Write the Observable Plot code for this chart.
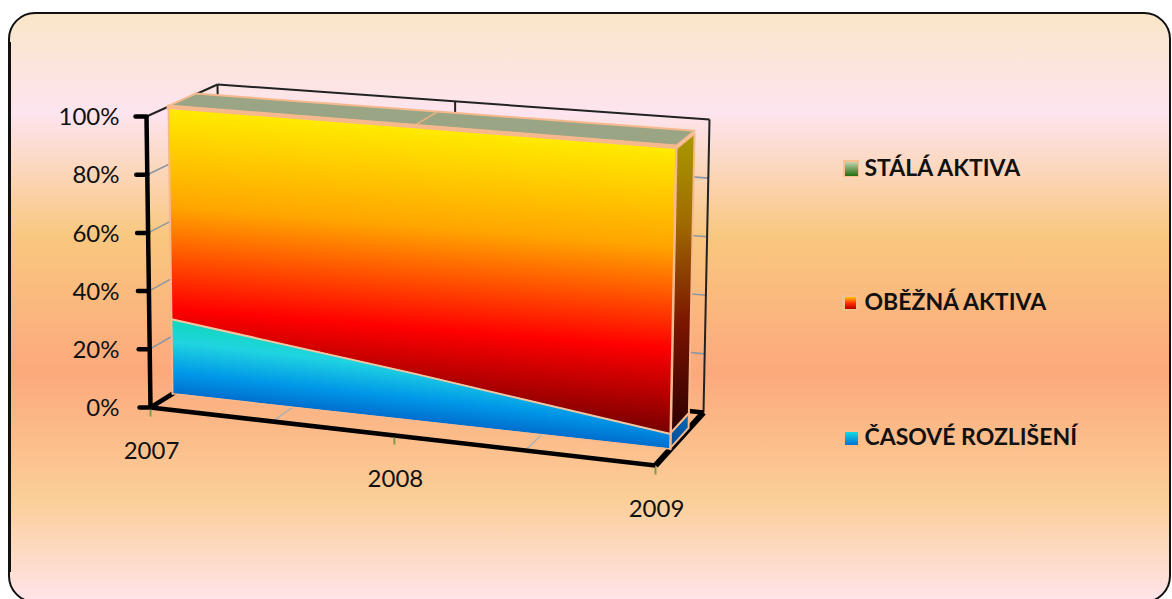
<!DOCTYPE html>
<html lang="cs">
<head>
<meta charset="utf-8">
<style>
  html, body { margin: 0; padding: 0; background: #fff; overflow: hidden; }
  svg { display: block; }
</style>
<script src="https://cdn.jsdelivr.net/npm/d3@7"></script>
<script src="https://cdn.jsdelivr.net/npm/@observablehq/plot@0.6"></script>
</head>
<body>
<div id="chart"></div>
<script>
// Balance-sheet structure, share of total assets (%)
const years = [2007, 2008, 2009];
const casoveRozliseni = [26, 16, 5];
const obeznaAktiva = [73, 83, 94];
const stalaAktiva = [1, 1, 1];
const percentTicks = [0, 20, 40, 60, 80, 100];
const legendNames = ["STÁLÁ AKTIVA", "OBĚŽNÁ AKTIVA", "ČASOVÉ ROZLIŠENÍ"];

// Corners of the 3D box on screen: [year end][value end][depth end]
const box = [
  [[[150, 407], [221, 363]], [[146, 116], [217, 84]]],
  [[[655, 465], [703, 412]], [[661, 158], [709, 119]]]
];
const bodyFront = 0.31, bodyBack = 0.7; // depth of the stacked body inside the box

// Year and value are normalised by scales, then placed in the box.
const yearPos = d3.scaleLinear().domain([2007, 2008, 2009]).range([0, 0.483, 1]);
const valuePos = Plot.scale({y: {domain: [0, 100], range: [0, 1]}});
const mix = (a, b, t) => [a[0] + (b[0] - a[0]) * t, a[1] + (b[1] - a[1]) * t];
function project(year, value, depth) {
  const u = yearPos(year), v = valuePos.apply(value);
  const side = i => mix(
    mix(box[i][0][0], box[i][0][1], depth),
    mix(box[i][1][0], box[i][1][1], depth), v);
  return mix(side(0), side(1), u);
}
const link = (a, b) => {
  const [x1, y1] = project(...a), [x2, y2] = project(...b);
  return {x1, y1, x2, y2};
};
const segment = {x1: "x1", y1: "y1", x2: "x2", y2: "y2"};

// Stacked levels per year
const rows = years.map((year, i) => {
  const low = casoveRozliseni[i], mid = low + obeznaAktiva[i], top = mid + stalaAktiva[i];
  return {year, low, mid, top};
});
const last = rows[rows.length - 1];
const depths = [bodyFront, bodyBack];
const band = (lo, hi, opts) => Plot.area(rows, {
  x1: d => project(d.year, d[lo] ?? 0, bodyFront)[0],
  y1: d => project(d.year, d[lo] ?? 0, bodyFront)[1],
  x2: d => project(d.year, d[hi], bodyFront)[0],
  y2: d => project(d.year, d[hi], bodyFront)[1],
  ...opts
});
const sideBand = (lo, hi, opts) => Plot.area(depths, {
  x1: w => project(last.year, last[lo] ?? 0, w)[0],
  y1: w => project(last.year, last[lo] ?? 0, w)[1],
  x2: w => project(last.year, last[hi], w)[0],
  y2: w => project(last.year, last[hi], w)[1],
  ...opts
});

const inner = percentTicks.filter(p => p > 0 && p < 100);
const edge = {stroke: "#f6b98d", strokeWidth: 2};

const plot = Plot.plot({
  width: 1172,
  height: 599,
  margin: 0,
  x: {type: "identity", axis: null},
  y: {type: "identity", axis: null},
  marks: [
    // panel
    Plot.rect([0], {x1: 9, x2: 1170, y1: 13, y2: 602, rx: 26, fill: "url(#panel)", stroke: "#111", strokeWidth: 2}),
    Plot.ruleX([9], {y1: 42, y2: 572, stroke: "#111", strokeWidth: 3}),

    // grid on the walls and the floor
    Plot.link(inner.flatMap(p => [link([2007, p, 0], [2007, p, 1]), link([2007, p, 1], [2009, p, 1])]),
      {...segment, stroke: "#8f97a3", strokeWidth: 1.6}),
    Plot.link([2007.5, 2008.5].map(t => link([t, 0, 0], [t, 0, 1])),
      {...segment, stroke: "#b4b2ad", strokeWidth: 1.6}),

    // thin frame of the box
    Plot.link([
      link([2007, 100, 0], [2007, 100, 1]),
      link([2007, 100, 1], [2009, 100, 1]),
      link([2009, 100, 1], [2009, 0, 1]),
      link([2007, 100, 1], [2007, 0, 1]),
      link([2008, 100, 1], [2008, 0, 1])
    ], {...segment, stroke: "#222", strokeWidth: 2}),

    // heavy axis lines and ticks
    Plot.link([
      link([2007, 0, 0], [2007, 100, 0]),
      link([2007, 0, 0], [2009, 0, 0]),
      link([2007, 0, 0], [2007, 0, 1]),
      link([2009, 0, 1], [2007, 0, 1])
    ], {...segment, stroke: "#000", strokeWidth: 4.5}),
    Plot.link([link([2009, 0, 0], [2009, 0, 1])], {...segment, stroke: "#000", strokeWidth: 6}),
    Plot.link(percentTicks, {
      x1: p => project(2007, p, 0)[0] - 11, x2: p => project(2007, p, 0)[0],
      y1: p => project(2007, p, 0)[1], y2: p => project(2007, p, 0)[1],
      stroke: "#000", strokeWidth: 4.5, strokeLinecap: "round"
    }),
    Plot.link(years, {
      x1: y => project(y, 0, 0)[0], x2: y => project(y, 0, 0)[0],
      y1: y => project(y, 0, 0)[1] + 2, y2: y => project(y, 0, 0)[1] + 9,
      stroke: "#7c9c48", strokeWidth: 2
    }),

    // top and right-hand side of the stacked body
    Plot.area(rows, {
      x1: d => project(d.year, d.top, bodyFront)[0], y1: d => project(d.year, d.top, bodyFront)[1],
      x2: d => project(d.year, d.top, bodyBack)[0], y2: d => project(d.year, d.top, bodyBack)[1],
      fill: "#9aa585", ...edge
    }),
    Plot.link([link([2008, 100, bodyFront], [2008, 100, bodyBack])],
      {...segment, stroke: "#e9b283", strokeWidth: 1.5}),
    sideBand(undefined, "low", {fill: "url(#blueSide)", ...edge}),
    sideBand("low", "mid", {fill: "url(#orangeSide)", ...edge}),

    // front faces, bottom to top of the stack
    band(undefined, "low", {fill: "url(#blueFront)", stroke: "none"}),
    band("mid", "top", {fill: "#9aa585", stroke: "#f6b98d", strokeWidth: 3}),
    band("low", "mid", {fill: "url(#orangeFront)", stroke: "none"}),
    Plot.line(rows, {
      x: d => project(d.year, d.low, bodyFront)[0], y: d => project(d.year, d.low, bodyFront)[1],
      stroke: "#f2c6a2", strokeWidth: 2
    }),
    Plot.line([{year: 2007, v: 0}, {year: 2007, v: 100}], {
      x: d => project(d.year, d.v, bodyFront)[0], y: d => project(d.year, d.v, bodyFront)[1],
      stroke: "#f6b98d", strokeWidth: 2
    }),
    Plot.line([{year: 2009, v: 0}, {year: 2009, v: 100}], {
      x: d => project(d.year, d.v, bodyFront)[0], y: d => project(d.year, d.v, bodyFront)[1],
      stroke: "#f6b98d", strokeWidth: 2.5
    }),
    Plot.line(rows, {
      x: d => project(d.year, 0, bodyFront)[0], y: d => project(d.year, 0, bodyFront)[1],
      stroke: "#f6b98d", strokeWidth: 1.5
    }),

    // axis labels
    Plot.text(percentTicks, {
      x: 119, y: p => project(2007, p, 0)[1] + 1, text: p => `${p}%`,
      textAnchor: "end", fontSize: 24, fontFamily: "Lato", fill: "#111"
    }),
    Plot.text(years, {
      x: y => project(y, 0, 0)[0] + 1, y: y => project(y, 0, 0)[1] + 44,
      text: String, fontSize: 24, fontFamily: "Lato", fill: "#111"
    }),

    // legend
    Plot.rect([0, 1, 2], {
      x1: [843, 842, 844], x2: [859, 859, 859], y1: [160, 295, 431], y2: [177, 311, 446],
      fill: "#f8bf8f", fillOpacity: [1, 0.8, 0]
    }),
    Plot.rect([0, 1, 2], {
      x1: [845, 845, 845], x2: [858, 856, 858], y1: [162, 297, 432], y2: [176, 309, 445],
      fill: i => ["url(#legendGreen)", "url(#legendOrange)", "url(#legendBlue)"][i]
    }),
    Plot.text(legendNames, {
      x: 864, y: [168, 302, 437], text: d => d,
      textAnchor: "start", fontSize: 23, fontWeight: 700, fontFamily: "Lato", fill: "#111"
    })
  ]
});

// Gradients used by the fills above
const defs = d3.select(plot).insert("defs", ":first-child");
function gradient(id, stops, coords) {
  const g = defs.append("linearGradient").attr("id", id);
  if (coords) g.attr("gradientUnits", "userSpaceOnUse")
    .attr("x1", coords[0]).attr("y1", coords[1]).attr("x2", coords[2]).attr("y2", coords[3]);
  else g.attr("x1", 0).attr("y1", 0).attr("x2", 0).attr("y2", 1);
  stops.forEach(([o, c]) => g.append("stop").attr("offset", o).attr("stop-color", c));
}
gradient("panel", [
  [0, "#fae6c8"], [0.17, "#fde4ef"], [0.38, "#f9c77f"],
  [0.61, "#fca97c"], [0.83, "#fbcf98"], [1, "#ffe4ea"]
], [0, 13, 0, 600]);
gradient("orangeFront", [
  [0, "#fff200"], [0.33, "#ffa500"], [0.64, "#ff0000"], [1, "#420000"]
], [420, 118, 394, 445]);
gradient("blueFront", [
  [0, "#10d8b8"], [0.32, "#20d4e0"], [0.72, "#0098e8"], [1, "#0070d0"]
], [173, 318, 165, 392]);
gradient("orangeSide", [
  [0, "#a89a00"], [0.3, "#a06c00"], [0.65, "#7a1400"], [1, "#300000"]
], [690, 132, 690, 428]);
gradient("blueSide", [[0, "#0068b8"], [1, "#004f98"]], [690, 415, 680, 445]);
gradient("legendGreen", [[0, "#c4d2ae"], [1, "#1f6f10"]]);
gradient("legendOrange", [[0, "#ffc000"], [0.5, "#ff3000"], [1, "#b80000"]]);
gradient("legendBlue", [[0, "#12dce0"], [1, "#006fd8"]]);

document.getElementById("chart").append(plot);
</script>
</body>
</html>
